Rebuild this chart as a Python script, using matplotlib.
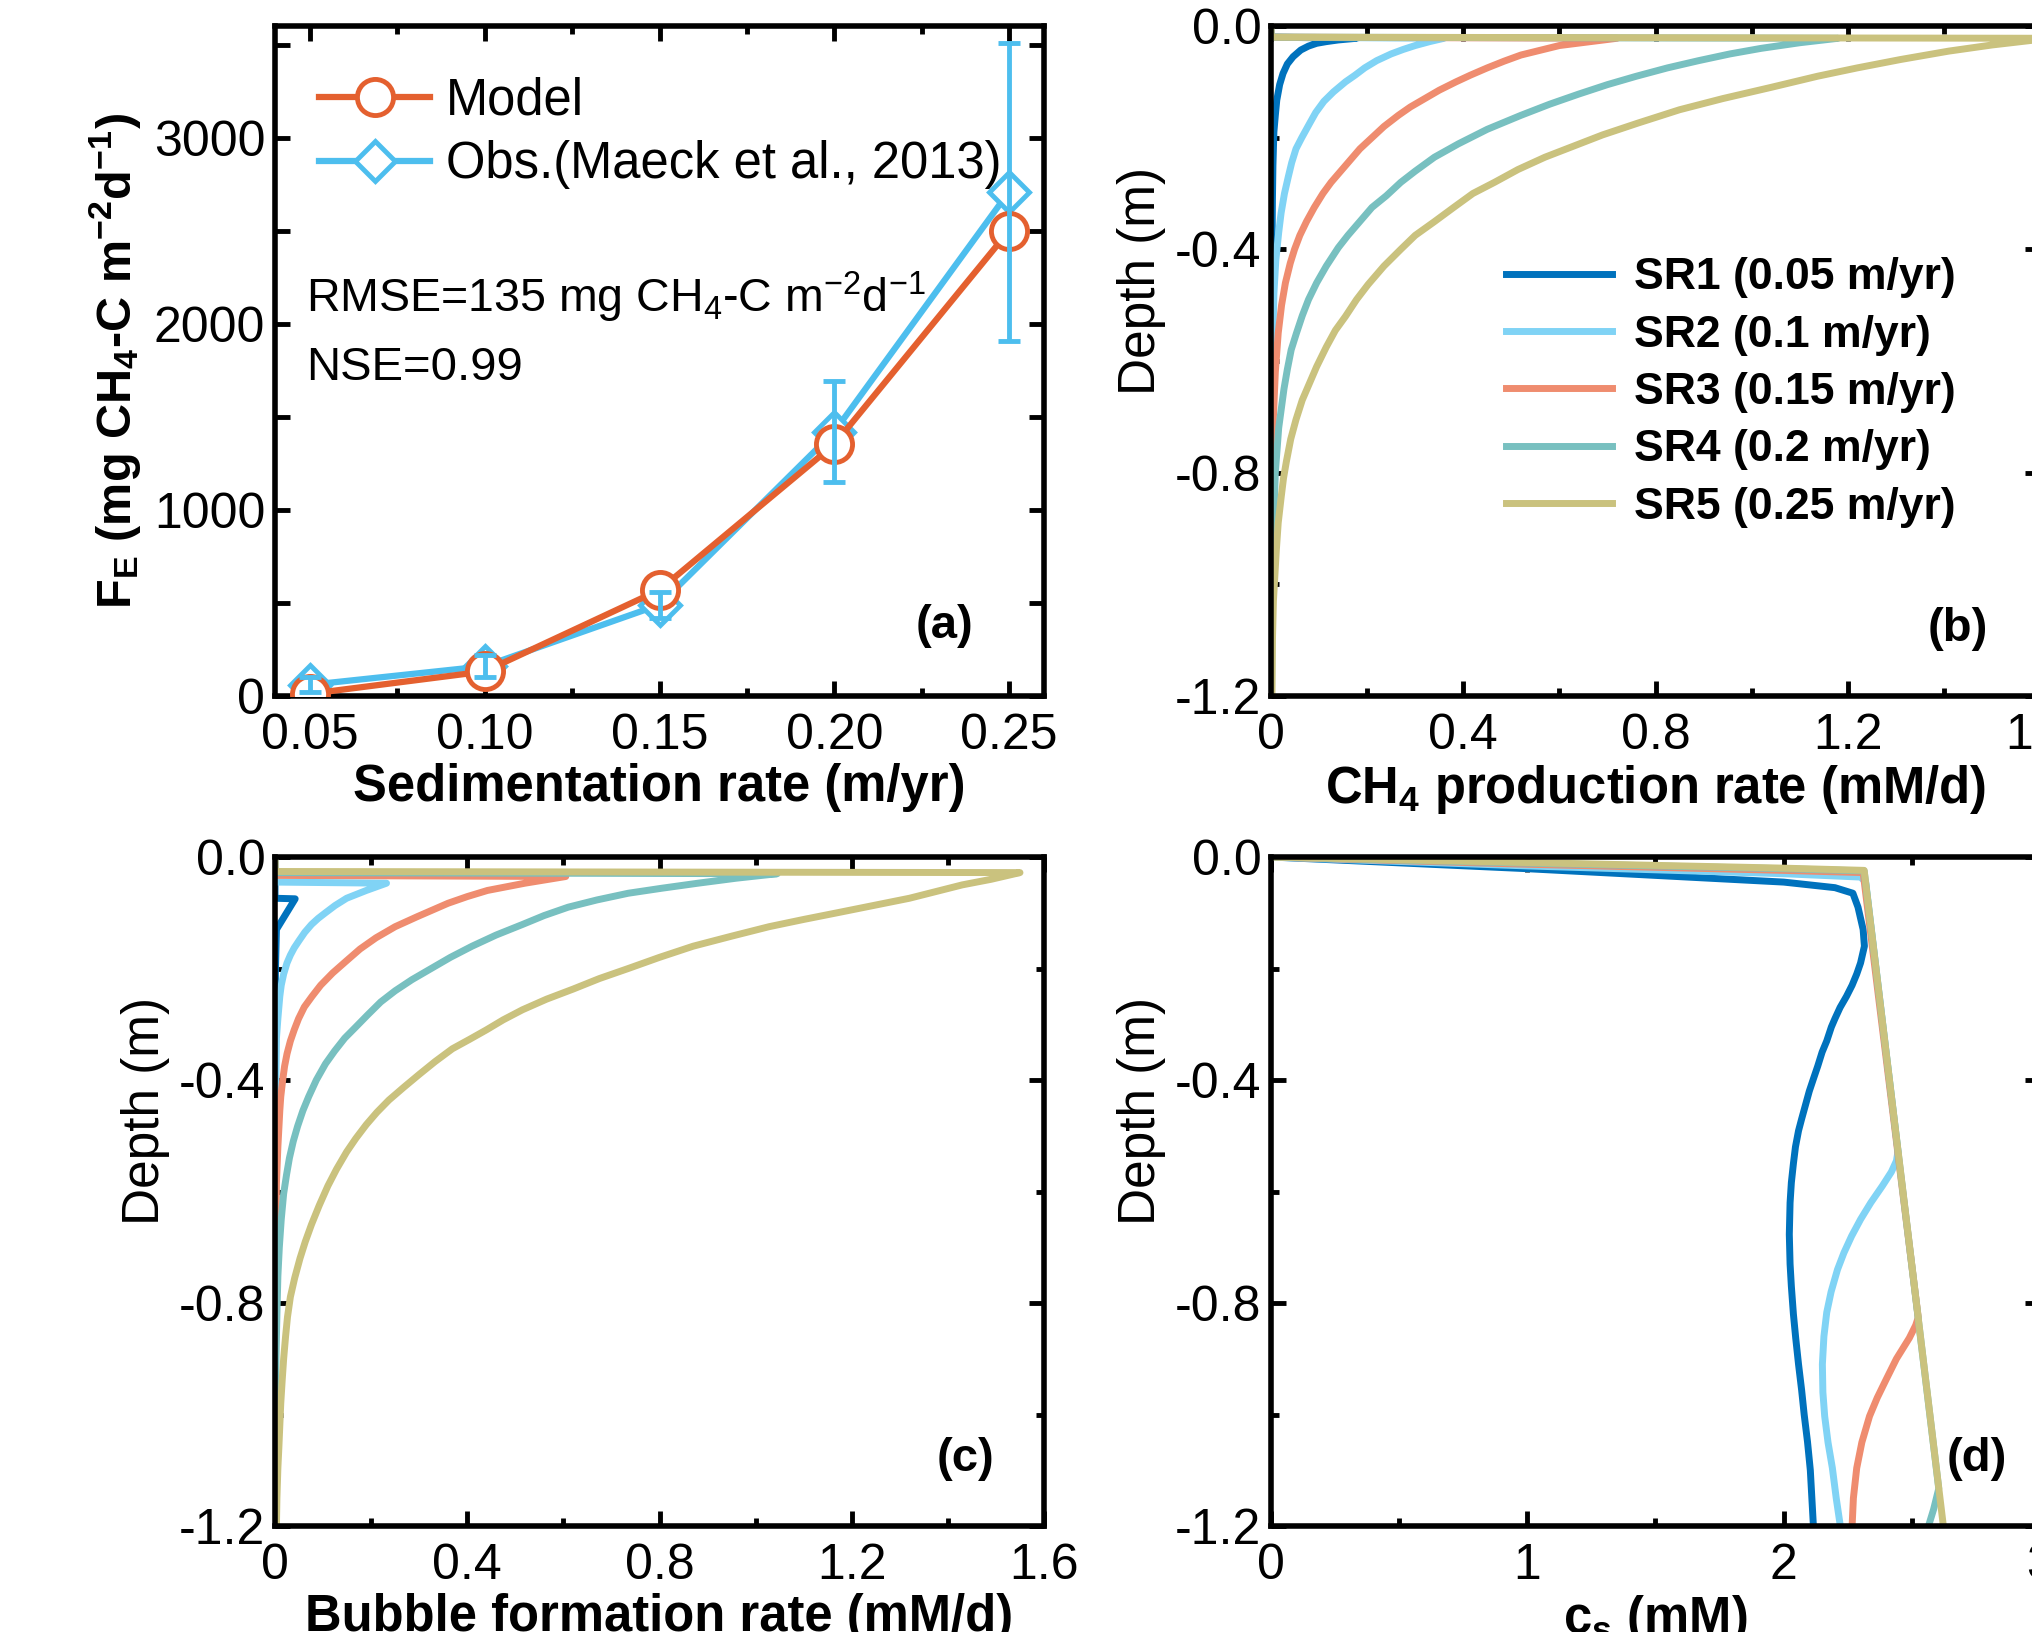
import matplotlib
matplotlib.use('Agg')
import matplotlib.pyplot as plt
from matplotlib.ticker import MultipleLocator, FuncFormatter, FormatStrFormatter

plt.rcParams['font.family'] = ['Liberation Sans', 'DejaVu Sans']
plt.rcParams['mathtext.fontset'] = 'custom'
plt.rcParams['mathtext.rm'] = 'Liberation Sans'
plt.rcParams['mathtext.it'] = 'Liberation Sans:italic'
plt.rcParams['mathtext.bf'] = 'Liberation Sans:bold'
plt.rcParams['axes.unicode_minus'] = False

# ---- panel (a): emission flux vs sedimentation rate
sed_rate = [0.05, 0.10, 0.15, 0.20, 0.25]
fe_model = [12, 132, 570, 1352, 2500]
fe_obs = [60, 160, 490, 1420, 2710]
fe_obs_err = [40, 60, 70, 270, 800]

labels_sr = ['SR1 (0.05 m/yr)', 'SR2 (0.1 m/yr)', 'SR3 (0.15 m/yr)',
             'SR4 (0.2 m/yr)', 'SR5 (0.25 m/yr)']
colors_sr = ['#0072BD', '#80D3F5', '#EF8C6F', '#78C0C0', '#CAC27E']

# ---- panel (b): CH4 production rate profiles (depth in m, rate in mM/d)
prod_depth = [
    [0, -0.02, -0.022, -0.025, -0.028, -0.031, -0.036, -0.043, -0.055, -0.068, -0.085,
     -0.105, -0.133, -0.16, -0.19, -0.25, -0.31, -0.5, -1.2],
    [0, -0.02, -0.022, -0.028, -0.035, -0.042, -0.05, -0.062, -0.075, -0.088, -0.1, -0.118,
     -0.135, -0.155, -0.175, -0.2, -0.22, -0.245, -0.27, -0.3, -0.335, -0.37, -0.42, -0.48,
     -0.6, -0.7, -1.2],
    [0, -0.02, -0.022, -0.035, -0.052, -0.063, -0.075, -0.088, -0.1, -0.115, -0.13, -0.145,
     -0.16, -0.18, -0.2, -0.22, -0.24, -0.26, -0.28, -0.3, -0.325, -0.35, -0.375, -0.4,
     -0.425, -0.46, -0.5, -0.55, -0.62, -0.7, -0.9, -1.2],
    [0, -0.02, -0.022, -0.03, -0.04, -0.05, -0.062, -0.075, -0.09, -0.105, -0.122, -0.14,
     -0.16, -0.185, -0.211, -0.235, -0.26, -0.28, -0.304, -0.325, -0.35, -0.375, -0.397,
     -0.43, -0.46, -0.49, -0.519, -0.55, -0.58, -0.615, -0.65, -0.72, -0.8, -0.9, -1.0, -1.2],
    [0, -0.02, -0.022, -0.028, -0.034, -0.045, -0.06, -0.075, -0.09, -0.11, -0.13, -0.15,
     -0.174, -0.195, -0.215, -0.235, -0.257, -0.28, -0.3, -0.325, -0.351, -0.375, -0.4,
     -0.43, -0.463, -0.49, -0.52, -0.545, -0.575, -0.61, -0.64, -0.67, -0.705, -0.74,
     -0.78, -0.81, -0.845, -0.89, -0.94, -0.985, -1.03, -1.1, -1.2],
]
prod_rate = [
    [0, 0, 0.178, 0.14, 0.115, 0.095, 0.078, 0.062, 0.046, 0.034, 0.025,
     0.018, 0.012, 0.009, 0.006, 0.004, 0.003, 0.001, 0],
    [0, 0, 0.36, 0.33, 0.30, 0.275, 0.25, 0.22, 0.195, 0.175, 0.155, 0.13,
     0.11, 0.093, 0.08, 0.064, 0.052, 0.043, 0.036, 0.028, 0.021, 0.016, 0.01, 0.006,
     0.003, 0.002, 0],
    [0, 0, 0.72, 0.60, 0.52, 0.485, 0.45, 0.415, 0.385, 0.35, 0.32, 0.29,
     0.265, 0.235, 0.21, 0.185, 0.165, 0.145, 0.125, 0.108, 0.09, 0.074, 0.06, 0.049,
     0.04, 0.03, 0.022, 0.015, 0.009, 0.005, 0.002, 0],
    [0, 0, 1.18, 1.10, 1.02, 0.955, 0.89, 0.825, 0.76, 0.70, 0.64, 0.58,
     0.52, 0.45, 0.39, 0.34, 0.30, 0.27, 0.24, 0.21, 0.185, 0.16, 0.14,
     0.115, 0.095, 0.078, 0.065, 0.053, 0.042, 0.034, 0.027, 0.016, 0.009, 0.005, 0.003, 0.001],
    [0, 0, 1.62, 1.56, 1.50, 1.41, 1.31, 1.22, 1.137, 1.04, 0.94, 0.85,
     0.763, 0.69, 0.63, 0.57, 0.514, 0.465, 0.42, 0.38, 0.339, 0.30, 0.27,
     0.235, 0.202, 0.178, 0.155, 0.134, 0.115, 0.095, 0.08, 0.065, 0.052, 0.041,
     0.032, 0.026, 0.021, 0.015, 0.011, 0.008, 0.005, 0.003, 0.002],
]

# ---- panel (c): bubble formation rate profiles
bub_depth = [
    [0, -0.074, -0.075, -0.13, -0.2, -0.3, -1.2],
    [0, -0.045, -0.047, -0.06, -0.074, -0.087, -0.1, -0.11, -0.121, -0.135, -0.15, -0.163,
     -0.176, -0.19, -0.21, -0.23, -0.25, -0.29, -0.325, -0.45, -1.2],
    [0, -0.033, -0.035, -0.047, -0.06, -0.071, -0.083, -0.095, -0.107, -0.125, -0.145,
     -0.165, -0.186, -0.208, -0.23, -0.25, -0.269, -0.29, -0.31, -0.33, -0.353, -0.375,
     -0.4, -0.43, -0.455, -0.52, -0.585, -0.7, -0.8, -1.2],
    [0, -0.028, -0.03, -0.038, -0.047, -0.056, -0.065, -0.077, -0.09, -0.105, -0.121, -0.14,
     -0.16, -0.18, -0.2, -0.22, -0.24, -0.26, -0.283, -0.305, -0.325, -0.348, -0.371, -0.4,
     -0.43, -0.455, -0.483, -0.51, -0.54, -0.57, -0.604, -0.65, -0.7, -0.752, -0.82, -0.9, -1.2],
    [0, -0.026, -0.028, -0.04, -0.05, -0.062, -0.074, -0.087, -0.1, -0.112, -0.125, -0.142,
     -0.16, -0.18, -0.2, -0.218, -0.237, -0.255, -0.274, -0.292, -0.31, -0.327, -0.344,
     -0.367, -0.39, -0.413, -0.436, -0.458, -0.48, -0.505, -0.529, -0.56, -0.59, -0.625,
     -0.659, -0.69, -0.72, -0.755, -0.789, -0.825, -0.86, -0.9, -0.938, -0.98, -1.02,
     -1.06, -1.096, -1.15, -1.2],
]
bub_rate = [
    [0, 0, 0.042, 0.003, 0.001, 0, 0],
    [0, 0, 0.232, 0.19, 0.149, 0.125, 0.105, 0.09, 0.076, 0.062, 0.05, 0.04,
     0.032, 0.025, 0.018, 0.013, 0.01, 0.006, 0.003, 0.001, 0],
    [0, 0, 0.605, 0.52, 0.442, 0.40, 0.36, 0.328, 0.296, 0.25, 0.21,
     0.177, 0.149, 0.12, 0.095, 0.077, 0.061, 0.049, 0.04, 0.032, 0.025, 0.02,
     0.016, 0.012, 0.01, 0.006, 0.003, 0.002, 0.001, 0],
    [0, 0, 1.045, 0.96, 0.88, 0.805, 0.735, 0.67, 0.61, 0.56, 0.515, 0.46,
     0.41, 0.365, 0.325, 0.285, 0.25, 0.22, 0.193, 0.168, 0.145, 0.124, 0.105, 0.086,
     0.07, 0.058, 0.047, 0.038, 0.03, 0.024, 0.018, 0.013, 0.009, 0.006, 0.004, 0.002, 0],
    [0, 0, 1.55, 1.49, 1.43, 1.375, 1.32, 1.245, 1.17, 1.10, 1.028, 0.95,
     0.87, 0.80, 0.735, 0.675, 0.62, 0.565, 0.515, 0.475, 0.44, 0.405, 0.369,
     0.333, 0.3, 0.268, 0.237, 0.212, 0.19, 0.168, 0.149, 0.128, 0.11, 0.092,
     0.076, 0.063, 0.052, 0.041, 0.032, 0.026, 0.022, 0.018, 0.015, 0.012, 0.01,
     0.008, 0.006, 0.004, 0.003],
]

# ---- panel (d): dissolved CH4 concentration profiles (c_s in mM)
cs_depth = [
    [0, -0.021, -0.045, -0.055, -0.065, -0.09, -0.13, -0.16, -0.19, -0.21, -0.23, -0.25,
     -0.27, -0.29, -0.305, -0.33, -0.35, -0.375, -0.398, -0.42, -0.445, -0.47, -0.491,
     -0.52, -0.55, -0.584, -0.62, -0.677, -0.73, -0.77, -0.82, -0.863, -0.91, -0.956,
     -1.0, -1.049, -1.1, -1.15, -1.2],
    [0, -0.016, -0.03, -0.036, -0.045, -0.528, -0.545, -0.565, -0.59, -0.62, -0.65, -0.68,
     -0.71, -0.74, -0.78, -0.817, -0.86, -0.91, -0.96, -1.003, -1.05, -1.096, -1.15, -1.2],
    [0, -0.013, -0.024, -0.028, -0.826, -0.84, -0.863, -0.9, -0.937, -0.97, -1.003, -1.05,
     -1.096, -1.15, -1.2],
    [0, -0.011, -0.021, -0.025, -1.133, -1.17, -1.2],
    [0, -0.01, -0.02, -0.024, -1.2],
]
cs_conc = [
    [0, 1.0, 2.0, 2.2, 2.27, 2.29, 2.31, 2.315, 2.30, 2.285, 2.267, 2.245,
     2.22, 2.20, 2.186, 2.168, 2.15, 2.133, 2.116, 2.1, 2.085, 2.07, 2.058,
     2.046, 2.038, 2.03, 2.025, 2.022, 2.025, 2.03, 2.038, 2.047, 2.058, 2.07,
     2.08, 2.093, 2.104, 2.11, 2.116],
    [0, 1.0, 2.0, 2.3, 2.32, 2.446, 2.44, 2.42, 2.385, 2.34, 2.30, 2.265,
     2.235, 2.21, 2.185, 2.168, 2.157, 2.151, 2.153, 2.16, 2.173, 2.19, 2.205, 2.221],
    [0, 1.0, 2.0, 2.31, 2.525, 2.515, 2.49, 2.44, 2.40, 2.365, 2.335, 2.305,
     2.285, 2.272, 2.267],
    [0, 1.0, 2.0, 2.314, 2.605, 2.585, 2.565],
    [0, 1.0, 2.0, 2.314, 2.623],
]

W, H = 2033, 1632
fig = plt.figure(figsize=(W / 100, H / 100), dpi=100)


def box(left, top, right, bottom):
    return [left / W, 1 - bottom / H, (right - left) / W, (bottom - top) / H]


def style(ax):
    for s in ax.spines.values():
        s.set_linewidth(4)
    ax.tick_params(which='both', direction='in', top=True, right=True,
                   width=3.5, labelsize=36, pad=7)
    ax.tick_params(axis='x', which='both', pad=12)
    ax.tick_params(which='major', length=11)
    ax.tick_params(which='minor', length=6)


def zero_fmt(v, pos):
    if abs(v) < 1e-9:
        return '0'
    return '%.1f' % v


ax_a = fig.add_axes(box(275, 26, 1044, 696))
ax_b = fig.add_axes(box(1271, 26, 2040, 696))
ax_c = fig.add_axes(box(275, 857, 1044, 1526))
ax_d = fig.add_axes(box(1271, 857, 2040, 1526))

# (a)
orange = '#E4602F'
blue = '#4DBEEE'
ax_a.plot(sed_rate, fe_obs, color=blue, lw=4.5, marker='D', ms=20,
          mfc='white', mec=blue, mew=3.5, label='Obs.(Maeck et al., 2013)', zorder=3)
ax_a.plot(sed_rate, fe_model, color=orange, lw=4.5, marker='o', ms=26,
          mfc='white', mec=orange, mew=3.5, label='Model', zorder=4)
ax_a.errorbar(sed_rate, fe_obs, yerr=fe_obs_err, fmt='none', ecolor=blue,
              elinewidth=3.5, capsize=8, capthick=3.5, zorder=5)
style(ax_a)
ax_a.set_xlim(0.04, 0.26)
ax_a.set_ylim(0, 3600)
ax_a.xaxis.set_major_locator(MultipleLocator(0.05))
ax_a.xaxis.set_minor_locator(MultipleLocator(0.025))
ax_a.xaxis.set_major_formatter(FormatStrFormatter('%.2f'))
ax_a.yaxis.set_major_locator(MultipleLocator(1000))
ax_a.yaxis.set_minor_locator(MultipleLocator(500))
ax_a.tick_params(axis='y', which='minor', length=11)
ax_a.set_xlabel('Sedimentation rate (m/yr)', fontsize=36.5, fontweight='bold', labelpad=3)
ax_a.set_ylabel(r'F$_\mathbf{E}$ (mg CH$_\mathbf{4}$-C m$^\mathbf{-2}$d$^\mathbf{-1}$)',
                fontsize=35, fontweight='bold', labelpad=8)
h, l = ax_a.get_legend_handles_labels()
ax_a.legend(h[::-1], l[::-1], loc='upper left', bbox_to_anchor=(0.057, 0.925),
            frameon=False, fontsize=36.5, handlelength=2.2, handletextpad=0.3,
            labelspacing=0.3, borderpad=0, borderaxespad=0, numpoints=1)
ax_a.text(0.04, 0.595, r'RMSE=135 mg CH$_\mathrm{4}$-C m$^\mathrm{-2}$d$^\mathrm{-1}$',
          transform=ax_a.transAxes, fontsize=33.5, va='center', ha='left')
ax_a.text(0.04, 0.49, 'NSE=0.99', transform=ax_a.transAxes, fontsize=34,
          va='center', ha='left')
ax_a.text(0.87, 0.105, '(a)', transform=ax_a.transAxes, fontsize=34,
          fontweight='bold', ha='center', va='center')

# (b), (c), (d)
panels = [
    (ax_b, prod_rate, prod_depth, 'CH$_\\mathbf{4}$ production rate (mM/d)', '(b)', 0.893),
    (ax_c, bub_rate, bub_depth, 'Bubble formation rate (mM/d)', '(c)', 0.898),
    (ax_d, cs_conc, cs_depth, r'c$_\mathbf{s}$ (mM)', '(d)', 0.918),
]
for ax, xs, ds, xlabel, tag, tx in panels:
    for i in range(5):
        ax.plot(xs[i], ds[i], color=colors_sr[i], lw=5, label=labels_sr[i],
                solid_joinstyle='round')
    style(ax)
    ax.set_ylim(-1.2, 0)
    ax.yaxis.set_major_locator(MultipleLocator(0.4))
    ax.yaxis.set_minor_locator(MultipleLocator(0.2))
    ax.yaxis.set_major_formatter(FormatStrFormatter('%.1f'))
    ax.set_ylabel('Depth (m)', fontsize=37, labelpad=6)
    ax.yaxis.label.set_y(0.62)
    ax.set_xlabel(xlabel, fontsize=36.5, fontweight='bold', labelpad=3)
    ax.text(tx, 0.1, tag, transform=ax.transAxes, fontsize=34,
            fontweight='bold', ha='center', va='center')

for ax in (ax_b, ax_c):
    ax.set_xlim(0, 1.6)
    ax.xaxis.set_major_locator(MultipleLocator(0.4))
    ax.xaxis.set_minor_locator(MultipleLocator(0.2))
    ax.xaxis.set_major_formatter(FuncFormatter(zero_fmt))

ax_d.set_xlim(0, 3)
ax_d.xaxis.set_major_locator(MultipleLocator(1))
ax_d.xaxis.set_minor_locator(MultipleLocator(0.5))

ax_b.legend(loc='upper left', bbox_to_anchor=(0.305, 0.655), frameon=False,
            prop={'size': 32, 'weight': 'bold'}, handlelength=2.4,
            handletextpad=0.5, labelspacing=0.37, borderpad=0, borderaxespad=0)

fig.savefig('out.png', dpi=100)
